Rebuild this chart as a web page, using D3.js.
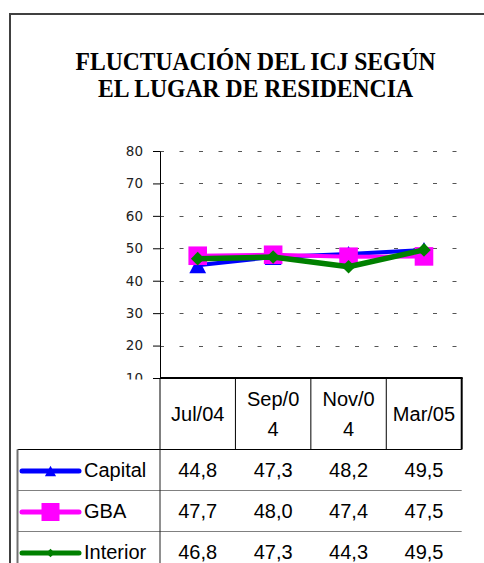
<!DOCTYPE html>
<html>
<head>
<meta charset="utf-8">
<script src="https://cdn.jsdelivr.net/npm/d3@7"></script>
<style>
  body { margin: 0; background: #fff; }
  svg { display: block; }
</style>
</head>
<body>
<div id="chart"></div>
<script>
const titleLines = ["FLUCTUACIÓN DEL ICJ SEGÚN", "EL LUGAR DE RESIDENCIA"];
const categories = ["Jul/04", "Sep/04", "Nov/04", "Mar/05"];
const headerLabels = [["Jul/04"], ["Sep/0", "4"], ["Nov/0", "4"], ["Mar/05"]];
const yTicks = [10, 20, 30, 40, 50, 60, 70, 80];
const seriesNames = ["Capital", "GBA", "Interior"];
const capital = [44.8, 47.3, 48.2, 49.5];
const gba = [47.7, 48.0, 47.4, 47.5];
const interior = [46.8, 47.3, 44.3, 49.5];

const width = 484, height = 563;
const plotLeft = 160, plotRight = 461.7, plotTop = 151, plotBottom = 378;
const legendLeft = 17.5, headerBottom = 449.5, rowH = 41;

const series = [
  {name: seriesNames[0], values: capital, color: '#0000ff', lw: 4, marker: 'triangle'},
  {name: seriesNames[1], values: gba, color: '#ff00ff', lw: 4, marker: 'square'},
  {name: seriesNames[2], values: interior, color: '#008000', lw: 5.5, marker: 'diamond'}
];

const svg = d3.select('#chart').append('svg')
  .attr('width', width)
  .attr('height', height);

// outer frame (only left and top are visible)
svg.append('path')
  .attr('d', `M10,${height} L10,14 L${width},14`)
  .attr('fill', 'none')
  .attr('stroke', '#404040')
  .attr('stroke-width', 2);

// title
svg.append('g').selectAll('text')
  .data(titleLines)
  .enter().append('text')
  .attr('x', 255.5)
  .attr('y', (d, i) => 69.5 + i * 27)
  .attr('text-anchor', 'middle')
  .attr('font-family', '"Liberation Serif", "Times New Roman", serif')
  .attr('font-weight', 'bold')
  .attr('font-size', 25)
  .attr('textLength', (d, i) => i === 0 ? 360 : 315)
  .attr('lengthAdjust', 'spacingAndGlyphs')
  .attr('fill', '#000')
  .text(d => d);

const x = d3.scaleBand().domain(categories).range([plotLeft, plotRight]);
const y = d3.scaleLinear().domain([10, 80]).range([plotBottom, plotTop]);
const cx = c => x(c) + x.bandwidth() / 2;

// dashed gridlines
svg.append('g').selectAll('line')
  .data(yTicks.filter(t => t > 10))
  .enter().append('line')
  .attr('x1', plotLeft)
  .attr('x2', plotRight)
  .attr('y1', d => Math.round(y(d)) + 0.5)
  .attr('y2', d => Math.round(y(d)) + 0.5)
  .attr('stroke', '#555')
  .attr('stroke-width', 1)
  .attr('stroke-dasharray', '4,15.5');

// y axis
const yAxis = svg.append('g')
  .attr('transform', `translate(${plotLeft},0)`)
  .call(d3.axisLeft(y).tickValues(yTicks).tickSize(7).tickPadding(10).tickSizeOuter(0));
yAxis.select('.domain').attr('stroke', '#000');
yAxis.selectAll('.tick line').attr('stroke', '#000');
yAxis.selectAll('.tick text')
  .attr('font-family', '"DejaVu Sans", sans-serif')
  .attr('font-size', 13.5)
  .attr('fill', '#222');

// series lines and markers
const line = d3.line()
  .x((d, i) => cx(categories[i]))
  .y(d => y(d));

function markerPath(type, s) {
  if (type === 'triangle') return `M0,${-s} L${s * 1.05},${s} L${-s * 1.05},${s} Z`;
  if (type === 'square') return `M${-s},${-s} H${s} V${s} H${-s} Z`;
  return `M0,${-s} L${s},0 L0,${s} L${-s},0 Z`;
}
const markerSize = {triangle: 8, square: 9.3, diamond: 6.8};

series.forEach(s => {
  const g = svg.append('g');
  g.append('path')
    .datum(s.values)
    .attr('d', line)
    .attr('fill', 'none')
    .attr('stroke', s.color)
    .attr('stroke-width', s.lw)
    .attr('stroke-linejoin', 'round');
  g.selectAll('path.mk')
    .data(s.values)
    .enter().append('path')
    .attr('class', 'mk')
    .attr('transform', (d, i) => `translate(${cx(categories[i])},${y(d)})`)
    .attr('d', markerPath(s.marker, markerSize[s.marker]))
    .attr('fill', s.color);
});

// data table (covers the lower part of the "10" label)
const table = svg.append('g');
table.append('rect')
  .attr('x', 11)
  .attr('y', plotBottom + 1.5)
  .attr('width', width - 11)
  .attr('height', height - plotBottom)
  .attr('fill', '#fff');

const fmt = v => d3.format('.1f')(v).replace('.', ',');
const font = '"Liberation Sans", Arial, sans-serif';

// header cells
const bounds = categories.map(c => x(c)).concat([plotRight]);
table.selectAll('line.hv')
  .data(bounds)
  .enter().append('line')
  .attr('class', 'hv')
  .attr('x1', d => d).attr('x2', d => d)
  .attr('y1', plotBottom).attr('y2', headerBottom)
  .attr('stroke', '#000')
  .attr('stroke-width', (d, i) => i === bounds.length - 1 ? 2 : 1);

categories.forEach((c, i) => {
  const lines = headerLabels[i];
  const mid = (plotBottom + headerBottom) / 2;
  table.append('g').selectAll('text')
    .data(lines)
    .enter().append('text')
    .attr('x', cx(c))
    .attr('y', (d, j) => mid + 7 + (j - (lines.length - 1) / 2) * 29.5)
    .attr('text-anchor', 'middle')
    .attr('font-family', font)
    .attr('font-size', 20)
    .attr('fill', '#000')
    .text(d => d);
});

// axis line / table top
table.append('line')
  .attr('x1', plotLeft).attr('x2', plotRight + 1)
  .attr('y1', plotBottom).attr('y2', plotBottom)
  .attr('stroke', '#000')
  .attr('stroke-width', 2);

// header bottom
table.append('line')
  .attr('x1', legendLeft).attr('x2', plotRight)
  .attr('y1', headerBottom).attr('y2', headerBottom)
  .attr('stroke', '#000');

// row separators
table.selectAll('line.rs')
  .data(series.slice(1))
  .enter().append('line')
  .attr('class', 'rs')
  .attr('x1', legendLeft).attr('x2', plotRight)
  .attr('y1', (d, i) => headerBottom + (i + 1) * rowH)
  .attr('y2', (d, i) => headerBottom + (i + 1) * rowH)
  .attr('stroke', '#808080');

// legend column borders
table.append('line')
  .attr('x1', legendLeft).attr('x2', legendLeft)
  .attr('y1', headerBottom).attr('y2', height)
  .attr('stroke', '#707070')
  .attr('stroke-width', 2);
table.append('line')
  .attr('x1', plotLeft).attr('x2', plotLeft)
  .attr('y1', headerBottom).attr('y2', height)
  .attr('stroke', '#222');

const legendMarker = {triangle: 5.3, square: 9, diamond: 4.3};

series.forEach((s, r) => {
  const top = headerBottom + r * rowH;
  const my = top + 21.5;
  table.append('line')
    .attr('x1', 22).attr('x2', 79)
    .attr('y1', my).attr('y2', my)
    .attr('stroke', s.color)
    .attr('stroke-width', 5)
    .attr('stroke-linecap', 'round');
  table.append('path')
    .attr('transform', `translate(50.5,${my})`)
    .attr('d', markerPath(s.marker, legendMarker[s.marker]))
    .attr('fill', s.color);
  table.append('text')
    .attr('x', 84)
    .attr('y', top + 27.5)
    .attr('font-family', font)
    .attr('font-size', 20)
    .attr('fill', '#000')
    .text(s.name);
  table.append('g').selectAll('text')
    .data(s.values)
    .enter().append('text')
    .attr('x', (d, i) => cx(categories[i]))
    .attr('y', top + 27.5)
    .attr('text-anchor', 'middle')
    .attr('font-family', font)
    .attr('font-size', 20)
    .attr('fill', '#000')
    .text(d => fmt(d));
});
</script>
</body>
</html>
